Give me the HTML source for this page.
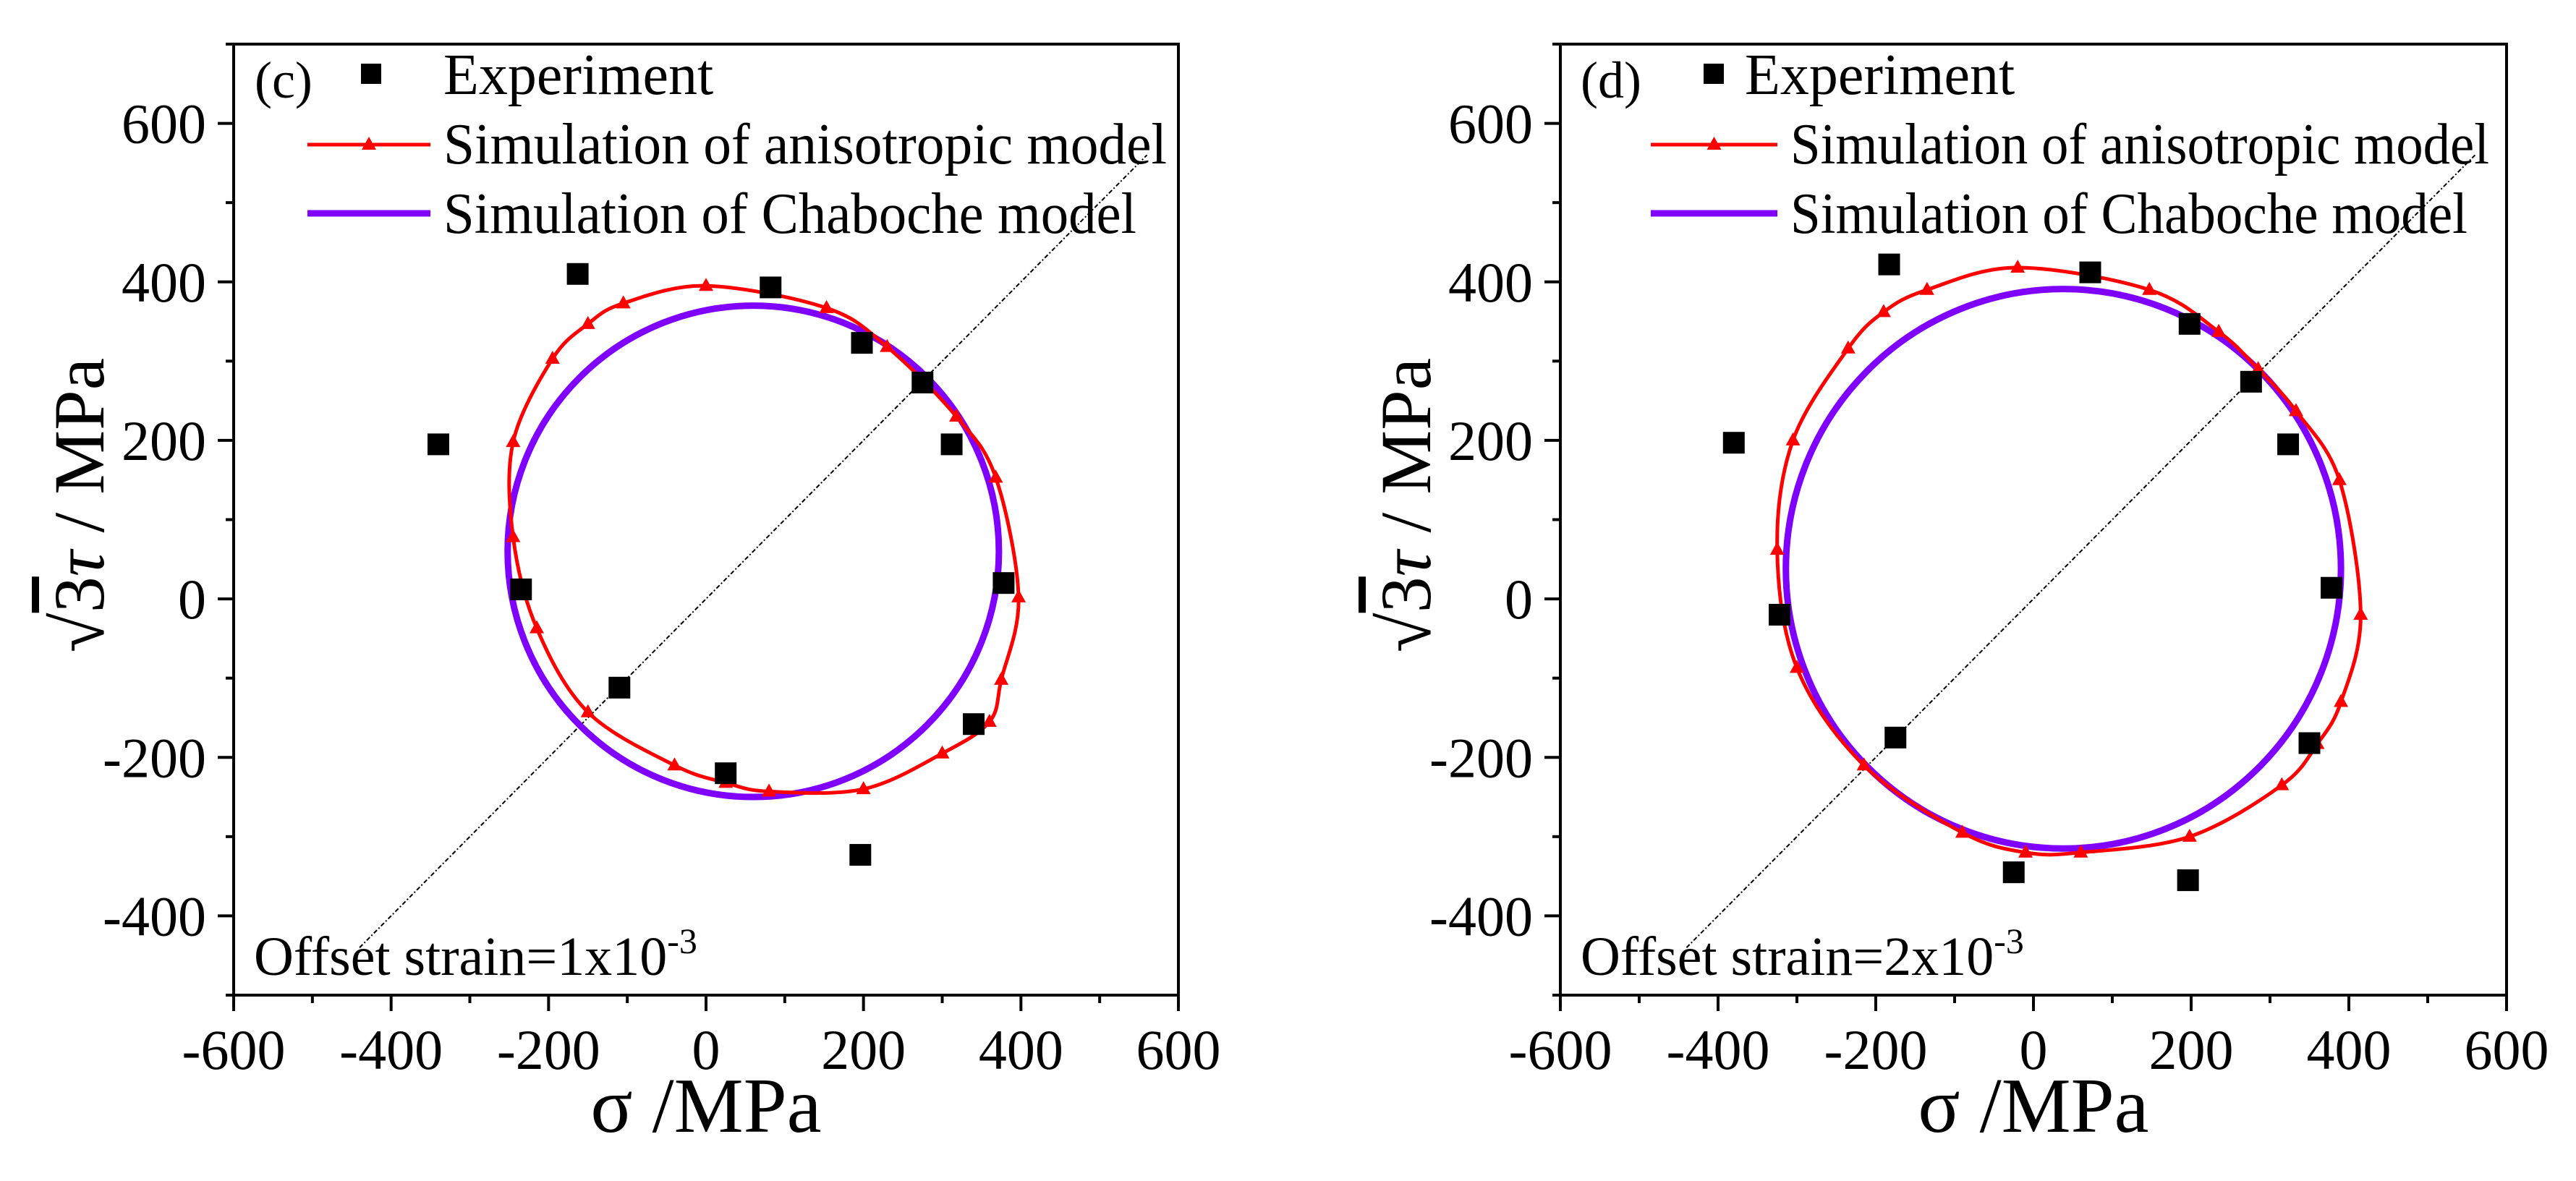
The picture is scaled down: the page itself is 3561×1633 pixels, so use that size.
<!DOCTYPE html>
<html><head><meta charset="utf-8"><style>
html,body{margin:0;padding:0;background:#fff}
svg{display:block}
text{font-family:"Liberation Serif","Times New Roman",serif;fill:#000}
</style></head><body>
<svg id="chart" width="3561" height="1633" viewBox="0 0 3561 1633" xmlns="http://www.w3.org/2000/svg"></svg>
<script>
// ---- data ----
const xTicks = [-600,-400,-200,0,200,400,600];
const yTicks = [-400,-200,0,200,400,600];
const panelLabels = ["(c)","(d)"];
const offsetLabels = ["1","2"];
// panel c
const expC_x = [-340,-163,82,198,275,312,378,340,196,25,-110,-235];
const expC_y = [195,410,393,323,273,195,20,-158,-323,-220,-112,12];
const aniC_x = [0,-105,-150,-195,-245,-245,-215,-150,-40,25,80,200,300,360,375,397,368,318,230,153];
const aniC_y = [395,373,347,303,198,78,-37,-143,-210,-232,-243,-240,-195,-155,-102,2,153,230,318,367];
const chabC = [60,60,312,310]; // cx, cy, rx, ry
// panel d
const expD_x = [-380,-183,72,198,276,323,378,350,196,-25,-175,-322];
const expD_y = [197,422,412,347,274,195,14,-182,-355,-345,-175,-20];
const aniD_x = [-20,-135,-190,-235,-305,-325,-300,-215,-90,-10,60,198,315,360,390,415,388,333,285,235,147];
const aniD_y = [418,390,362,316,200,62,-87,-210,-295,-320,-320,-300,-235,-183,-130,-20,150,237,290,337,390];
const chabD = [38,38,352,353];
const diagRange = [-440,560];

const NS="http://www.w3.org/2000/svg";
const svg=document.getElementById('chart');
function mk(tag,attrs,parent){const e=document.createElementNS(NS,tag);for(const k in attrs)e.setAttribute(k,attrs[k]);(parent||svg).appendChild(e);return e;}

const panels=[
 {L:323,R:1629,T:61,B:1376,ex:expC_x,ey:expC_y,ax:aniC_x,ay:aniC_y,ch:chabC,
  lab:{x:352,y:135},mk:513,line:[425,595],te:613,tx:613,w1:1000,w2:958},
 {L:2157,R:3465,T:61,B:1376,ex:expD_x,ey:expD_y,ax:aniD_x,ay:aniD_y,ch:chabD,
  lab:{x:2185,y:135},mk:2369,line:[2282,2457],te:2412,tx:2475,w1:966,w2:936}
];

panels.forEach((p,pi)=>{
  const g=mk('g',{});
  
  
  const sx=v=>p.L+(v+600)/1200*(p.R-p.L);
  const sy=v=>p.B-(v+500)/1200*(p.B-p.T);
  const dg=mk('line',{x1:sx(diagRange[0]),y1:sy(diagRange[0]),x2:sx(diagRange[1]),y2:sy(diagRange[1]),stroke:'#000','stroke-width':2,'stroke-dasharray':'6 3 2 3'},g);
  
  
  const el=mk('ellipse',{cx:sx(p.ch[0]),cy:sy(p.ch[1]),rx:p.ch[2]*(p.R-p.L)/1200,ry:p.ch[3]*(p.B-p.T)/1200,fill:'none',stroke:'#7f00ff','stroke-width':9},g);
  
  
  const pts=p.ax.map((v,i)=>[sx(v),sy(p.ay[i])]);
  const n=pts.length;let d=`M${pts[0][0]},${pts[0][1]}`;
  for(let i=0;i<n;i++){
    const p0=pts[(i-1+n)%n],p1=pts[i],p2=pts[(i+1)%n],p3=pts[(i+2)%n];
    const c1=[p1[0]+(p2[0]-p0[0])/6,p1[1]+(p2[1]-p0[1])/6];
    const c2=[p2[0]-(p3[0]-p1[0])/6,p2[1]-(p3[1]-p1[1])/6];
    d+=` C${c1[0]},${c1[1]} ${c2[0]},${c2[1]} ${p2[0]},${p2[1]}`;
  }
  const an=mk('path',{d:d+'Z',fill:'none',stroke:'#ff0000','stroke-width':5},g);
  
  
  pts.forEach(([x,y])=>{
    const t=mk('polygon',{points:`${x},${y-11} ${x-10},${y+7} ${x+10},${y+7}`,fill:'#ff0000'},g);
    
    
  });
  p.ex.forEach((v,i)=>{
    const r=mk('rect',{x:sx(v)-15,y:sy(p.ey[i])-15,width:30,height:30,fill:'#000'},g);
    
    
  });
  const fr=mk('rect',{x:p.L,y:p.T,width:p.R-p.L,height:p.B-p.T,fill:'none',stroke:'#000','stroke-width':4},g);
  
  
  for(let v=-600;v<=600;v+=100){
    const maj=v%200===0;
    const t=mk('line',{x1:sx(v),y1:p.B,x2:sx(v),y2:p.B+(maj?22:11),stroke:'#000','stroke-width':4},g);
    
    
  }
  xTicks.forEach(v=>{
    const t=mk('text',{x:sx(v),y:1478,'font-size':78,'text-anchor':'middle'},g);t.textContent=v;
    
    
  });
  for(let v=-500;v<=700;v+=100){
    const maj=v%200===0;
    const t=mk('line',{x1:p.L,y1:sy(v),x2:p.L-(maj?22:11),y2:sy(v),stroke:'#000','stroke-width':4},g);
    
    
  }
  yTicks.forEach(v=>{
    const t=mk('text',{x:p.L-38,y:sy(v)+27,'font-size':78,'text-anchor':'end'},g);t.textContent=v;
    
    
  });
  const xt=mk('text',{x:(p.L+p.R)/2,y:1565,'font-size':108,'text-anchor':'middle'},g);xt.textContent='σ /MPa';
  
  
  const yx=p.L-180, yy=(p.T+p.B)/2-20;
  const yt=mk('text',{x:yx,y:yy,'font-size':100,'text-anchor':'middle',transform:`rotate(-90 ${yx} ${yy})`},g);
  yt.innerHTML='√<tspan text-decoration="overline">3</tspan><tspan font-style="italic">τ</tspan> / MPa';
  
  
  const pl=mk('text',{x:p.lab.x,y:p.lab.y,'font-size':72},g);pl.textContent=panelLabels[pi];
  
  
  const lm=mk('rect',{x:p.mk-14,y:88,width:28,height:28,fill:'#000'},g);
  
  
  const l1=mk('text',{x:p.te,y:130,'font-size':80},g);l1.textContent='Experiment';
  
  
  const rl=mk('line',{x1:p.line[0],y1:200,x2:p.line[1],y2:200,stroke:'#ff0000','stroke-width':5},g);
  
  
  const mx=(p.line[0]+p.line[1])/2;
  mk('polygon',{points:`${mx},189 ${mx-10},207 ${mx+10},207`,fill:'#ff0000'},g);
  const l2=mk('text',{x:p.tx,y:226,'font-size':80,textLength:p.w1,lengthAdjust:'spacingAndGlyphs'},g);l2.textContent='Simulation of anisotropic model';
  
  
  const pu=mk('line',{x1:p.line[0],y1:295,x2:p.line[1],y2:295,stroke:'#7f00ff','stroke-width':9},g);
  
  
  const l3=mk('text',{x:p.tx,y:322,'font-size':80,textLength:p.w2,lengthAdjust:'spacingAndGlyphs'},g);l3.textContent='Simulation of Chaboche model';
  
  
  const os=mk('text',{x:p.L+28,y:1348,'font-size':76},g);
  os.innerHTML='Offset strain='+offsetLabels[pi]+'x10<tspan dy="-30" font-size="50">-3</tspan>';
  
  
});
</script>
</body></html>
